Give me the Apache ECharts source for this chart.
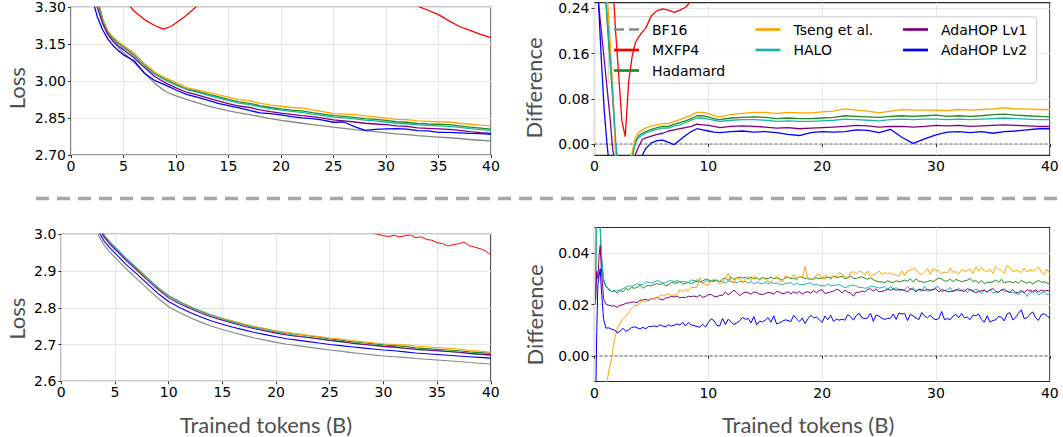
<!DOCTYPE html>
<html>
<head>
<meta charset="utf-8">
<script src="https://cdn.jsdelivr.net/npm/echarts@6.0.0/dist/echarts.min.js"></script>
<style>html,body{margin:0;padding:0;background:#fff}#c{width:1063px;height:437px}</style>
</head>
<body>
<div id="c"></div>
<script>
// ---------- Top-left: Loss ----------
const tlX = [2,2.5,3,3.5,4,4.5,5,6,7,8,9,10,11,12,13,14,15,16,17,18,19,20,21,22,23,24,25,26,27,28,29,30,31,32,33,34,35,36,37,38,39,40];
const tlBF16 = [3.47,3.34,3.255,3.2,3.165,3.138,3.116,3.077,3.033,2.99,2.958,2.94,2.926,2.913,2.9,2.889,2.879,2.871,2.864,2.856,2.848,2.841,2.835,2.829,2.823,2.818,2.813,2.808,2.803,2.799,2.795,2.790,2.786,2.783,2.779,2.776,2.773,2.770,2.767,2.763,2.760,2.757];
const tlHad = [3.46,3.33,3.25,3.2,3.174,3.155,3.14,3.107,3.066,3.030,3.007,2.987,2.969,2.959,2.947,2.937,2.926,2.916,2.910,2.901,2.893,2.887,2.882,2.879,2.872,2.866,2.860,2.857,2.853,2.848,2.845,2.841,2.835,2.833,2.828,2.826,2.825,2.823,2.818,2.813,2.809,2.805];
const tlTseng = [3.45,3.33,3.25,3.205,3.18,3.16,3.146,3.113,3.071,3.036,3.013,2.994,2.974,2.965,2.954,2.945,2.935,2.925,2.920,2.911,2.903,2.898,2.893,2.891,2.883,2.876,2.868,2.866,2.864,2.859,2.855,2.850,2.845,2.844,2.839,2.837,2.835,2.834,2.829,2.825,2.821,2.818];
const tlHALO = [3.46,3.33,3.245,3.197,3.171,3.152,3.137,3.104,3.063,3.027,3.004,2.984,2.966,2.955,2.943,2.932,2.921,2.911,2.905,2.896,2.888,2.882,2.877,2.873,2.866,2.860,2.854,2.851,2.847,2.842,2.839,2.834,2.829,2.827,2.822,2.820,2.818,2.816,2.812,2.807,2.803,2.800];
const tlLv1 = [3.4,3.30,3.235,3.19,3.162,3.143,3.128,3.095,3.055,3.018,2.993,2.973,2.955,2.944,2.932,2.920,2.909,2.899,2.893,2.883,2.876,2.870,2.865,2.860,2.856,2.850,2.843,2.839,2.834,2.829,2.826,2.823,2.818,2.816,2.810,2.808,2.806,2.804,2.800,2.795,2.791,2.788];
const tlLv2 = [3.34,3.262,3.21,3.172,3.145,3.124,3.107,3.083,3.032,3.002,2.984,2.964,2.946,2.935,2.923,2.910,2.901,2.891,2.881,2.871,2.868,2.863,2.856,2.851,2.848,2.842,2.833,2.834,2.815,2.800,2.804,2.806,2.807,2.805,2.799,2.798,2.792,2.792,2.790,2.788,2.787,2.784];
const tlRedX = [4,5,5.5,6,7,8,8.8,9.5,10,11,12,13,15,17,19,21,23,25,27,29,31,32,33,34,35,36,37,38,39,40];
const tlMXFP4 = [3.45,3.36,3.31,3.285,3.25,3.225,3.211,3.222,3.236,3.268,3.305,3.35,3.42,3.47,3.5,3.52,3.52,3.5,3.47,3.42,3.36,3.33,3.305,3.288,3.27,3.245,3.222,3.206,3.19,3.177];

// ---------- Top-right: Difference ----------
const trX = [0.1,0.35,0.6,0.85,1.1,1.35,1.6,1.85,2.1,2.4,2.7,3.0,3.3,3.6,3.9,4.2,4.5,5,5.5,6,6.5,7,7.5,8,8.5,9,9.5,10,10.5,11,12,13,14,15,16,17,18,19,20,21,22,23,24,25,26,27,28,29,30,31,32,33,34,35,36,37,38,39,40];
const trBF16X = [0, 40];
const trBF16 = [0, 0];
const trMXFP4 = [0.6,0.55,0.5,0.45,0.4,0.35,0.29,0.2,0.13,0.042,0.013,0.11,0.154,0.18,0.19,0.198,0.205,0.227,0.236,0.239,0.237,0.233,0.237,0.242,0.253,0.265,0.28,0.295,0.316,0.338,0.39,0.43,0.46,0.49,0.51,0.53,0.545,0.555,0.565,0.57,0.575,0.58,0.58,0.58,0.575,0.57,0.565,0.56,0.555,0.548,0.54,0.527,0.51,0.496,0.475,0.456,0.444,0.432,0.42];
const trHad = [0.5,0.44,0.37,0.3,0.22,0.15,0.08,0.0,-0.05,-0.075,-0.07,-0.055,-0.02,0.005,0.015,0.019,0.022,0.026,0.029,0.031,0.031,0.035,0.038,0.041,0.045,0.05,0.05,0.048,0.045,0.043,0.046,0.047,0.048,0.047,0.045,0.046,0.045,0.045,0.046,0.047,0.05,0.049,0.048,0.047,0.049,0.05,0.049,0.05,0.051,0.049,0.05,0.049,0.05,0.052,0.053,0.051,0.05,0.049,0.048];
const trTseng = [0.55,0.48,0.41,0.34,0.27,0.19,0.1,-0.02,-0.06,-0.075,-0.07,-0.05,-0.015,0.012,0.021,0.025,0.028,0.032,0.034,0.036,0.036,0.04,0.043,0.047,0.051,0.056,0.056,0.054,0.05,0.048,0.052,0.054,0.056,0.056,0.054,0.056,0.055,0.055,0.057,0.058,0.062,0.06,0.058,0.055,0.058,0.061,0.06,0.06,0.06,0.059,0.061,0.06,0.061,0.062,0.064,0.062,0.062,0.061,0.061];
const trHALO = [0.48,0.42,0.36,0.3,0.23,0.16,0.09,0.01,-0.045,-0.075,-0.07,-0.055,-0.025,0.002,0.012,0.016,0.019,0.023,0.026,0.028,0.028,0.032,0.034,0.038,0.042,0.046,0.046,0.044,0.042,0.04,0.042,0.043,0.043,0.042,0.04,0.041,0.04,0.04,0.041,0.042,0.044,0.043,0.042,0.041,0.043,0.044,0.043,0.044,0.044,0.043,0.044,0.043,0.044,0.045,0.046,0.045,0.044,0.043,0.043];
const trLv1 = [0.3,0.25,0.2,0.15,0.1,0.05,-0.01,-0.04,-0.06,-0.065,-0.06,-0.05,-0.035,-0.018,-0.004,0.008,0.011,0.014,0.017,0.019,0.023,0.025,0.027,0.029,0.031,0.035,0.034,0.033,0.031,0.029,0.031,0.032,0.031,0.03,0.028,0.029,0.027,0.028,0.029,0.03,0.031,0.033,0.032,0.03,0.031,0.031,0.03,0.031,0.033,0.032,0.033,0.031,0.032,0.033,0.034,0.033,0.032,0.031,0.031];
const trLv2 = [0.35,0.25,0.15,0.06,0.0,-0.05,-0.08,-0.1,-0.11,-0.11,-0.1,-0.09,-0.075,-0.06,-0.04,-0.02,-0.008,0.002,0.006,0.007,0.003,-0.001,0.007,0.015,0.022,0.027,0.025,0.023,0.021,0.02,0.022,0.023,0.021,0.022,0.02,0.017,0.015,0.02,0.022,0.021,0.022,0.025,0.024,0.02,0.026,0.012,0.001,0.009,0.016,0.021,0.022,0.02,0.022,0.019,0.022,0.023,0.025,0.027,0.027];

// ---------- Bottom-left: Loss ----------
const blX = [3,3.5,4,4.5,5,6,7,8,9,10,11,12,13,14,15,16,17,18,19,20,21,22,23,24,25,26,27,28,29,30,31,32,33,34,35,36,37,38,39,40];
const blBF16 = [3.035,2.995,2.97,2.952,2.937,2.907,2.880,2.853,2.826,2.803,2.787,2.773,2.761,2.750,2.741,2.733,2.725,2.718,2.712,2.706,2.701,2.697,2.693,2.689,2.685,2.682,2.678,2.675,2.672,2.669,2.667,2.665,2.662,2.660,2.658,2.656,2.654,2.651,2.649,2.647];
const blHad = [3.061,3.021,2.997,2.979,2.965,2.935,2.908,2.881,2.855,2.833,2.817,2.803,2.791,2.780,2.771,2.763,2.755,2.748,2.743,2.737,2.732,2.728,2.724,2.720,2.715,2.712,2.708,2.705,2.702,2.699,2.697,2.695,2.691,2.689,2.687,2.685,2.683,2.680,2.678,2.676];
const blTseng = [3.052,3.014,2.991,2.974,2.960,2.931,2.905,2.880,2.854,2.832,2.816,2.803,2.791,2.780,2.771,2.763,2.756,2.749,2.743,2.737,2.733,2.729,2.725,2.722,2.718,2.715,2.711,2.708,2.705,2.702,2.700,2.699,2.696,2.694,2.692,2.690,2.688,2.684,2.682,2.679];
const blHALO = [3.062,3.022,2.998,2.980,2.965,2.936,2.909,2.882,2.855,2.832,2.816,2.802,2.790,2.779,2.769,2.761,2.753,2.746,2.740,2.734,2.729,2.724,2.720,2.716,2.712,2.708,2.704,2.701,2.698,2.695,2.693,2.690,2.687,2.685,2.683,2.681,2.679,2.675,2.673,2.671];
const blLv1 = [3.056,3.016,2.992,2.974,2.960,2.930,2.903,2.876,2.850,2.827,2.811,2.798,2.786,2.775,2.766,2.758,2.750,2.743,2.737,2.731,2.726,2.722,2.719,2.715,2.711,2.708,2.704,2.701,2.698,2.695,2.693,2.690,2.687,2.685,2.683,2.681,2.679,2.676,2.674,2.672];
const blLv2 = [3.046,3.006,2.981,2.964,2.949,2.919,2.893,2.866,2.839,2.817,2.801,2.787,2.775,2.764,2.755,2.747,2.740,2.733,2.727,2.721,2.716,2.712,2.708,2.704,2.700,2.697,2.694,2.691,2.688,2.685,2.683,2.680,2.677,2.675,2.673,2.671,2.669,2.667,2.665,2.663];
const blRedX = [3,5,7,9,11,13,15,17,19,21,23,25,27,28,29,29.5,30,30.5,31,31.5,32,32.5,33,33.5,34,34.5,35,35.5,36,36.5,37,37.5,38,38.5,39,39.5,40];
const blMXFP4 = [3.9,3.7,3.5,3.36,3.26,3.19,3.14,3.1,3.08,3.06,3.045,3.03,3.015,3.01,3.004,3.0,2.996,2.994,2.997,2.993,2.996,2.998,2.991,2.993,2.986,2.984,2.977,2.975,2.968,2.972,2.974,2.979,2.969,2.965,2.961,2.955,2.944];

// ---------- Bottom-right: Difference ----------
const brX = [0.1,0.2,0.3,0.4,0.5,0.6,0.8,1.0,
 1.25,1.5,1.75,2,2.25,2.5,2.75,3,
 3.25,3.5,3.75,4,4.25,4.5,4.75,5,
 5.25,5.5,5.75,6,6.25,6.5,6.75,7,
 7.25,7.5,7.75,8,8.25,8.5,8.75,9,
 9.25,9.5,9.75,10,10.25,10.5,10.75,11,
 11.25,11.5,11.75,12,12.25,12.5,12.75,13,
 13.25,13.5,13.75,14,14.25,14.5,14.75,15,
 15.25,15.5,15.75,16,16.25,16.5,16.75,17,
 17.25,17.5,17.75,18,18.25,18.5,18.75,19,
 19.25,19.5,19.75,20,20.25,20.5,20.75,21,
 21.25,21.5,21.75,22,22.25,22.5,22.75,23,
 23.25,23.5,23.75,24,24.25,24.5,24.75,25,
 25.25,25.5,25.75,26,26.25,26.5,26.75,27,
 27.25,27.5,27.75,28,28.25,28.5,28.75,29,
 29.25,29.5,29.75,30,30.25,30.5,30.75,31,
 31.25,31.5,31.75,32,32.25,32.5,32.75,33,
 33.25,33.5,33.75,34,34.25,34.5,34.75,35,
 35.25,35.5,35.75,36,36.25,36.5,36.75,37,
 37.25,37.5,37.75,38,38.25,38.5,38.75,39,
 39.25,39.5,39.75,40];
const brBF16X = [0, 40];
const brBF16 = [0, 0];
const brTseng = [-0.05,-0.05,-0.045,-0.04,-0.035,-0.03,-0.022,-0.013,
 -0.006,-0.001,0.0062,0.0105,0.0128,0.0145,0.0152,0.0171,
 0.0185,0.0196,0.0196,0.0206,0.0216,0.0211,0.0220,0.0222,
 0.0222,0.0226,0.0234,0.0237,0.0236,0.0242,0.0236,0.0237,
 0.0239,0.0257,0.0250,0.0259,0.0252,0.0267,0.0266,0.0267,
 0.0305,0.0287,0.0276,0.0276,0.0292,0.0300,0.0290,0.0278,
 0.0285,0.0302,0.0322,0.0291,0.0282,0.0305,0.0299,0.0282,
 0.0301,0.0310,0.0293,0.0310,0.0306,0.0293,0.0304,0.0298,
 0.0290,0.0287,0.0301,0.0310,0.0293,0.0287,0.0313,0.0307,
 0.0303,0.0317,0.0303,0.0309,0.0305,0.0348,0.0297,0.0300,
 0.0296,0.0316,0.0319,0.0299,0.0313,0.0308,0.0296,0.0313,
 0.0308,0.0325,0.0319,0.0308,0.0302,0.0325,0.0328,0.0319,
 0.0331,0.0325,0.0314,0.0331,0.0308,0.0317,0.0320,0.0331,
 0.0317,0.0325,0.0320,0.0323,0.0317,0.0314,0.0310,0.0331,
 0.0314,0.0331,0.0334,0.0340,0.0337,0.0320,0.0317,0.0326,
 0.0340,0.0317,0.0340,0.0334,0.0331,0.0320,0.0326,0.0323,
 0.0342,0.0325,0.0328,0.0319,0.0336,0.0329,0.0331,0.0339,
 0.0321,0.0347,0.0330,0.0344,0.0333,0.0327,0.0338,0.0321,
 0.0348,0.0336,0.0331,0.0322,0.0352,0.0345,0.0328,0.0333,
 0.0330,0.0324,0.0341,0.0327,0.0335,0.0330,0.0335,0.0347,
 0.0327,0.0315,0.0338,0.0318];
const brHad = [0.02,0.07,0.075,0.062,0.049,0.038,0.029,0.0268,
 0.0262,0.0250,0.0255,0.0243,0.0255,0.0250,0.0263,0.0256,
 0.0267,0.0263,0.0267,0.0275,0.0263,0.0271,0.0275,0.0272,
 0.0278,0.0281,0.0278,0.0282,0.0273,0.0276,0.0285,0.0284,
 0.0284,0.0289,0.0280,0.0283,0.0286,0.0281,0.0287,0.0290,
 0.0288,0.0291,0.0299,0.0296,0.0292,0.0293,0.0296,0.0288,
 0.0299,0.0304,0.0293,0.0307,0.0298,0.0302,0.0307,0.0303,
 0.0306,0.0300,0.0306,0.0300,0.0303,0.0298,0.0306,0.0301,
 0.0301,0.0306,0.0301,0.0303,0.0301,0.0295,0.0303,0.0307,
 0.0300,0.0303,0.0297,0.0308,0.0306,0.0301,0.0305,0.0297,
 0.0301,0.0304,0.0301,0.0304,0.0302,0.0307,0.0304,0.0310,
 0.0305,0.0307,0.0310,0.0301,0.0304,0.0311,0.0302,0.0301,
 0.0306,0.0307,0.0303,0.0298,0.0303,0.0297,0.0291,0.0288,
 0.0288,0.0285,0.0293,0.0288,0.0285,0.0293,0.0288,0.0291,
 0.0295,0.0291,0.0300,0.0288,0.0300,0.0291,0.0289,0.0286,
 0.0289,0.0294,0.0289,0.0297,0.0303,0.0299,0.0292,0.0291,
 0.0299,0.0289,0.0298,0.0293,0.0289,0.0292,0.0295,0.0301,
 0.0290,0.0293,0.0284,0.0295,0.0281,0.0287,0.0286,0.0289,
 0.0295,0.0287,0.0298,0.0284,0.0288,0.0289,0.0285,0.0290,
 0.0283,0.0294,0.0288,0.0283,0.0289,0.0280,0.0288,0.0294,
 0.0287,0.0288,0.0284,0.0279];
const brHALO = [0.025,0.075,0.08,0.065,0.052,0.04,0.03,0.0275,
 0.0257,0.0251,0.0252,0.0253,0.0256,0.0262,0.0268,0.0272,
 0.0271,0.0274,0.0281,0.0278,0.0277,0.0289,0.0287,0.0283,
 0.0288,0.0293,0.0290,0.0284,0.0285,0.0291,0.0293,0.0289,
 0.0294,0.0288,0.0290,0.0288,0.0286,0.0296,0.0293,0.0296,
 0.0292,0.0283,0.0291,0.0292,0.0289,0.0290,0.0293,0.0290,
 0.0290,0.0283,0.0291,0.0290,0.0288,0.0285,0.0290,0.0289,
 0.0290,0.0284,0.0289,0.0280,0.0288,0.0283,0.0281,0.0288,
 0.0281,0.0285,0.0282,0.0284,0.0279,0.0277,0.0282,0.0284,
 0.0285,0.0275,0.0283,0.0278,0.0277,0.0279,0.0283,0.0284,
 0.0276,0.0279,0.0274,0.0273,0.0272,0.0280,0.0272,0.0275,
 0.0275,0.0278,0.0272,0.0266,0.0269,0.0275,0.0274,0.0272,
 0.0266,0.0267,0.0263,0.0265,0.0271,0.0270,0.0267,0.0264,
 0.0266,0.0270,0.0258,0.0270,0.0260,0.0266,0.0254,0.0256,
 0.0257,0.0269,0.0259,0.0265,0.0255,0.0257,0.0251,0.0271,
 0.0252,0.0254,0.0257,0.0270,0.0266,0.0250,0.0254,0.0258,
 0.0266,0.0250,0.0254,0.0264,0.0252,0.0260,0.0246,0.0258,
 0.0254,0.0260,0.0254,0.0242,0.0258,0.0248,0.0258,0.0246,
 0.0245,0.0247,0.0257,0.0251,0.0253,0.0245,0.0247,0.0243,
 0.0239,0.0251,0.0247,0.0231,0.0251,0.0244,0.0253,0.0237,
 0.0244,0.0250,0.0238,0.0242];
const brLv1 = [0.022,0.033,0.03,0.039,0.043,0.034,0.022,0.0202,
 0.0197,0.0194,0.0195,0.0189,0.0197,0.0199,0.0205,0.0206,
 0.0209,0.0210,0.0207,0.0217,0.0217,0.0221,0.0215,0.0223,
 0.0222,0.0229,0.0221,0.0218,0.0225,0.0227,0.0232,0.0229,
 0.0233,0.0226,0.0228,0.0227,0.0232,0.0231,0.0233,0.0229,
 0.0237,0.0228,0.0231,0.0238,0.0239,0.0232,0.0230,0.0236,
 0.0235,0.0249,0.0237,0.0246,0.0256,0.0247,0.0235,0.0243,
 0.0248,0.0246,0.0240,0.0249,0.0246,0.0240,0.0239,0.0242,
 0.0247,0.0245,0.0241,0.0251,0.0248,0.0242,0.0244,0.0250,
 0.0241,0.0249,0.0244,0.0250,0.0241,0.0247,0.0250,0.0244,
 0.0255,0.0245,0.0255,0.0257,0.0243,0.0246,0.0249,0.0252,
 0.0259,0.0256,0.0245,0.0256,0.0248,0.0245,0.0232,0.0248,
 0.0247,0.0253,0.0249,0.0259,0.0261,0.0252,0.0261,0.0249,
 0.0251,0.0254,0.0260,0.0255,0.0261,0.0255,0.0260,0.0257,
 0.0255,0.0249,0.0261,0.0258,0.0249,0.0260,0.0257,0.0254,
 0.0259,0.0256,0.0259,0.0261,0.0249,0.0258,0.0255,0.0250,
 0.0251,0.0252,0.0258,0.0255,0.0254,0.0250,0.0261,0.0258,
 0.0251,0.0246,0.0252,0.0253,0.0256,0.0249,0.0257,0.0262,
 0.0251,0.0248,0.0257,0.0260,0.0251,0.0248,0.0258,0.0246,
 0.0246,0.0255,0.0246,0.0257,0.0255,0.0251,0.0257,0.0249,
 0.0256,0.0252,0.0255,0.0253];
const brLv2 = [-0.02,0.0095,0.028,0.031,0.034,0.026,0.0142,0.0108,
 0.0109,0.0104,0.0101,0.0089,0.0096,0.0107,0.0096,0.0101,
 0.0110,0.0113,0.0109,0.0105,0.0111,0.0105,0.0114,0.0115,
 0.0116,0.0113,0.0121,0.0116,0.0113,0.0121,0.0116,0.0119,
 0.0124,0.0120,0.0130,0.0116,0.0130,0.0120,0.0118,0.0114,
 0.0112,0.0123,0.0112,0.0130,0.0144,0.0137,0.0119,0.0116,
 0.0146,0.0122,0.0143,0.0132,0.0122,0.0129,0.0136,0.0150,
 0.0142,0.0146,0.0128,0.0153,0.0121,0.0135,0.0132,0.0139,
 0.0149,0.0131,0.0156,0.0124,0.0128,0.0135,0.0140,0.0138,
 0.0133,0.0158,0.0144,0.0133,0.0147,0.0126,0.0144,0.0158,
 0.0148,0.0151,0.0141,0.0130,0.0155,0.0141,0.0158,0.0134,
 0.0143,0.0139,0.0143,0.0139,0.0160,0.0153,0.0139,0.0157,
 0.0166,0.0148,0.0145,0.0148,0.0166,0.0134,0.0159,0.0155,
 0.0146,0.0142,0.0146,0.0146,0.0163,0.0142,0.0167,0.0163,
 0.0165,0.0137,0.0162,0.0155,0.0148,0.0141,0.0169,0.0155,
 0.0148,0.0159,0.0145,0.0141,0.0145,0.0173,0.0141,0.0145,
 0.0141,0.0155,0.0162,0.0148,0.0165,0.0148,0.0151,0.0141,
 0.0159,0.0156,0.0163,0.0142,0.0131,0.0156,0.0131,0.0138,
 0.0140,0.0154,0.0150,0.0136,0.0164,0.0168,0.0140,0.0150,
 0.0166,0.0179,0.0145,0.0148,0.0162,0.0171,0.0148,0.0138,
 0.0160,0.0164,0.0157,0.0145];

// ---------- Tick values ----------
const trTicks = [0, 0.08, 0.16, 0.24];
const brTicks = [0, 0.02, 0.04];

// ---------- Build option ----------
const COL = {BF16:'#888888', MXFP4:'#ff0000', Hadamard:'#228b22', Tseng:'#ffa500', HALO:'#20b2aa', Lv1:'#800080', Lv2:'#0000ff'};
const NAMES = {Tseng:'Tseng et al.', Lv1:'AdaHOP Lv1', Lv2:'AdaHOP Lv2'};
const TICK_FONT = 'DejaVu Sans';
const TITLE_FONT = 'Lato';
const pairs = (xs, ys) => xs.map((x, i) => [x, ys[i]]);

function ln(key, gi, xs, ys, width, extra) {
  const color = extra && extra.color ? extra.color : COL[key];
  return {
    type: 'line', name: NAMES[key] || key, xAxisIndex: gi, yAxisIndex: gi,
    data: pairs(xs, ys), symbol: 'none', showSymbol: false, clip: true,
    animation: false, silent: true,
    lineStyle: {color: color, width: width, type: extra && extra.type ? extra.type : 'solid'},
    itemStyle: {color: color}, emphasis: {disabled: true}
  };
}

const grids = [
  {left: 71, top: 7.3, width: 420, height: 147.7},
  {left: 594.5, top: 2.7, width: 455.3, height: 152.6},
  {left: 61.3, top: 234.3, width: 429.5, height: 147},
  {left: 594.5, top: 227.5, width: 455.3, height: 154}
].map(g => Object.assign(g, {show: true, borderColor: '#2b2b2b', borderWidth: 1.2, backgroundColor: 'transparent', containLabel: false}));

const splitLine = {show: true, lineStyle: {color: '#e6e6e6', width: 1}};
const tickLbl = {fontFamily: TICK_FONT, fontSize: 14, color: '#000'};
const nameStyle = {fontFamily: TITLE_FONT, fontSize: 22, color: '#505050'};

function xAx(gi, interval, name, padRight) {
  const a = {
    type: 'value', gridIndex: gi, min: 0, max: 40, interval: interval,
    axisLine: {show: false}, axisTick: {show: true, length: 3, lineStyle: {color: '#333'}},
    axisLabel: Object.assign({margin: 4}, tickLbl), splitLine: splitLine
  };
  if (name) {
    a.name = name; a.nameLocation = 'middle'; a.nameGap = 32;
    a.nameTextStyle = Object.assign({padding: [0, padRight, 0, 0]}, nameStyle);
  }
  return a;
}
function yAx(gi, cfg) {
  const a = {
    type: 'value', gridIndex: gi, min: cfg.min, max: cfg.max,
    axisLine: {show: false}, axisTick: {show: true, length: 3, lineStyle: {color: '#333'}},
    axisLabel: Object.assign({margin: 5, formatter: v => v.toFixed(cfg.dec)}, tickLbl),
    splitLine: splitLine,
    name: cfg.name, nameLocation: 'middle', nameGap: cfg.gap,
    nameTextStyle: Object.assign({padding: [0, cfg.pad, 0, 0]}, nameStyle)
  };
  if (cfg.interval) a.interval = cfg.interval;
  if (cfg.ticks) { a.axisTick.customValues = cfg.ticks; a.axisLabel.customValues = cfg.ticks; }
  return a;
}

const series = [
  ln('BF16', 0, tlX, tlBF16, 1.3),
  ln('MXFP4', 0, tlRedX, tlMXFP4, 1.3),
  ln('Hadamard', 0, tlX, tlHad, 1.3),
  ln('Tseng', 0, tlX, tlTseng, 1.3),
  ln('HALO', 0, tlX, tlHALO, 1.3),
  ln('Lv1', 0, tlX, tlLv1, 1.3),
  ln('Lv2', 0, tlX, tlLv2, 1.3),
  ln('BF16', 1, trBF16X, trBF16, 0.9, {color: '#555555', type: [3, 2]}),
  ln('MXFP4', 1, trX, trMXFP4, 1.3),
  ln('Hadamard', 1, trX, trHad, 1.3),
  ln('Tseng', 1, trX, trTseng, 1.3),
  ln('HALO', 1, trX, trHALO, 1.3),
  ln('Lv1', 1, trX, trLv1, 1.3),
  ln('Lv2', 1, trX, trLv2, 1.3),
  ln('BF16', 2, blX, blBF16, 1.1),
  ln('MXFP4', 2, blRedX, blMXFP4, 1.0),
  ln('Hadamard', 2, blX, blHad, 1.1),
  ln('Tseng', 2, blX, blTseng, 1.1),
  ln('HALO', 2, blX, blHALO, 1.1),
  ln('Lv1', 2, blX, blLv1, 1.1),
  ln('Lv2', 2, blX, blLv2, 1.1),
  ln('BF16', 3, brBF16X, brBF16, 0.9, {color: '#555555', type: [3, 2]}),
  ln('Hadamard', 3, brX, brHad, 1.0),
  ln('HALO', 3, brX, brHALO, 1.0),
  ln('Lv1', 3, brX, brLv1, 1.0),
  ln('Tseng', 3, brX, brTseng, 1.0),
  ln('Lv2', 3, brX, brLv2, 1.0)
];

const legendBase = {
  orient: 'vertical', top: 22.5, padding: 0, itemWidth: 25, itemHeight: 2.7, itemGap: 6.5,
  icon: 'rect', symbolKeepAspect: false, selectedMode: false, z: 5,
  textStyle: {fontFamily: TICK_FONT, fontSize: 14, color: '#000', padding: [0, 0, 0, 8]}
};
const legends = [
  Object.assign({}, legendBase, {left: 614, data: [
    {name: 'BF16', icon: 'path://M0,0H10V1H0Z M15,0H25V1H15Z'}, 'MXFP4', 'Hadamard']}),
  Object.assign({}, legendBase, {left: 755.5, data: ['Tseng et al.', 'HALO']}),
  Object.assign({}, legendBase, {left: 903, data: ['AdaHOP Lv1', 'AdaHOP Lv2']})
];

const option = {
  animation: false,
  backgroundColor: '#ffffff',
  grid: grids,
  xAxis: [xAx(0, 5), xAx(1, 10), xAx(2, 5, 'Trained tokens (B)', 20), xAx(3, 10, 'Trained tokens (B)', 28)],
  yAxis: [
    yAx(0, {min: 2.7, max: 3.3, interval: 0.15, dec: 2, name: 'Loss', gap: 44, pad: 14}),
    yAx(1, {min: -0.02, max: 0.25, ticks: trTicks, dec: 2, name: 'Difference', gap: 50, pad: 18}),
    yAx(2, {min: 2.6, max: 3.0, interval: 0.1, dec: 1, name: 'Loss', gap: 34, pad: 22}),
    yAx(3, {min: -0.01, max: 0.05, ticks: brTicks, dec: 2, name: 'Difference', gap: 49, pad: 21})
  ],
  legend: legends,
  graphic: [
    {type: 'rect', z: 3, silent: true, shape: {x: 608.3, y: 16.7, width: 428.4, height: 66.6, r: 3},
     style: {fill: 'rgba(255,255,255,0.8)', stroke: '#cccccc', lineWidth: 1}},
    {type: 'line', z: 3, silent: true, shape: {x1: 36, y1: 198.5, x2: 1063, y2: 198.5},
     style: {stroke: '#a6a6a6', lineWidth: 3.5, lineDash: [13, 8]}}
  ],
  series: series
};

const chart = echarts.init(document.getElementById('c'), null, {renderer: 'svg'});
chart.setOption(option);
</script>
</body>
</html>
